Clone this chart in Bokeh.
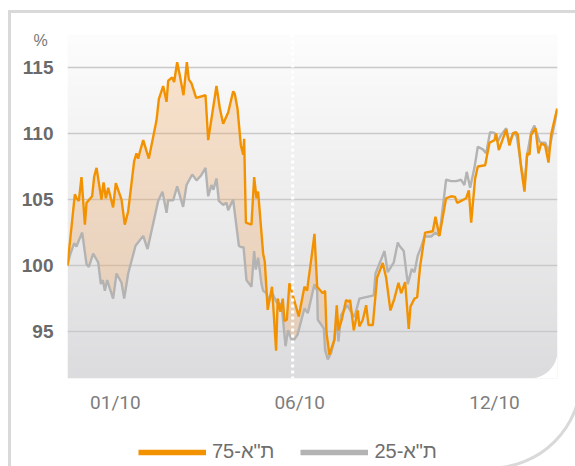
import numpy as np
from bokeh.plotting import figure
from bokeh.layouts import column
from bokeh.models import Range1d, FixedTicker, Span, Legend, LegendItem, Title
from bokeh.embed import file_html
from bokeh.resources import INLINE

# ---------------- data ----------------
# t = position along the period (days from the first observation)
t_ta75 = [0, 6.3, 7.7, 9.7, 12, 14.9, 16.3, 21.1, 22.9, 24.9, 29.1, 30.9, 32.9, 34.9, 39.1, 41.4,
          46.3, 49.1, 52, 57.1, 59.1, 60.6, 62, 64.9, 69.7, 76.3, 78.3, 82, 84.9, 86.3, 89.7, 91.4,
          94, 96.3, 99.4, 102.3, 104, 106.3, 110.3, 118.3, 120.6, 127.7, 130.6, 133.4, 137.7, 142,
          143.4, 145.7, 148.6, 150.6, 151.4, 152.9, 157.7, 160, 162, 163.4, 165.4, 167.7, 169.1,
          171.6, 175.3, 178.8, 180.2, 182.5, 184.5, 186, 188, 190.2, 198.2, 203.1, 205.4, 206.5,
          208.8, 211.7, 214, 218.8, 220.8, 222, 224.5, 228.8, 230.8, 232.2, 235.1, 238.8, 241.1,
          242.2, 245.4, 248.8, 250.2, 253.1, 256, 258, 261.7, 265.4, 270.2, 273.1, 276.8, 280.2,
          283.7, 286, 289.4, 292.5, 294, 297.4, 299.7, 302.2, 306.5, 313.1, 315.4, 318.8, 324.5,
          328.8, 332.2, 334, 337.4, 341.7, 344, 346, 349.4, 351.7, 358, 359.7, 361.7, 366, 367.4,
          369.7, 376, 378.8, 381.7, 384.5, 386, 388.8, 391.7, 394, 396, 397.4, 401.1, 403.7, 406,
          409.4, 412.3, 414.5, 419.7]
ta75 = [100.0, 105.4, 105.1, 104.9, 106.7, 103.1, 104.75, 105.25, 106.75, 107.4, 105.0, 106.3, 105.1,
        105.9, 104.4, 106.25, 105.0, 103.1, 104.1, 107.9, 108.5, 108.1, 108.6, 109.5, 108.1, 111.0,
        112.6, 113.6, 112.4, 114.0, 114.25, 113.9, 115.4, 114.4, 112.9, 115.4, 114.1, 113.8, 112.7,
        112.9, 109.5, 113.6, 111.9, 110.75, 111.6, 113.2, 113.0, 111.9, 109.1, 108.4, 109.6, 103.25,
        103.1, 106.7, 105.1, 105.6, 103.4, 100.9, 100.3, 96.65, 98.4, 93.55, 97.5, 96.5, 97.5, 95.8,
        95.9, 98.65, 96.15, 98.4, 98.1, 98.9, 100.4, 102.4, 98.4, 97.9, 98.1, 94.9, 93.25, 94.4,
        97.0, 95.1, 95.9, 97.4, 97.25, 97.4, 95.1, 96.6, 95.4, 95.9, 97.0, 95.5, 95.5, 99.1, 100.2,
        99.1, 96.6, 97.5, 98.7, 97.9, 98.75, 95.2, 96.9, 97.5, 97.6, 99.9, 102.5, 102.6, 103.7,
        102.25, 105.1, 105.25, 105.2, 104.75, 104.9, 105.1, 105.7, 103.25, 106.6, 107.5, 107.6,
        108.4, 109.3, 109.5, 110.0, 108.75, 110.3, 109.1, 110.0, 110.1, 109.9, 107.4, 105.6, 108.5,
        108.4, 109.9, 110.4, 108.5, 109.25, 109.1, 107.8, 109.9, 111.9]

t_ta25 = [0, 2, 5.7, 7.7, 9.7, 12.6, 16.3, 18.3, 22, 26.3, 28.6, 30.3, 32, 34, 39.1, 42, 46.3, 48.6,
          52, 58.3, 64.9, 68.6, 77.7, 81.4, 84.9, 86.3, 90.6, 94, 99.1, 102, 106.9, 110.6, 114.3,
          118.3, 120.6, 123.4, 125.1, 127.7, 129.7, 133.4, 136.3, 137.7, 142, 146.9, 148.6, 150.9,
          153.4, 157.7, 160, 161.4, 163.4, 166.3, 167.7, 170.6, 172, 175.4, 179.1, 180.6, 183.4,
          186.9, 189.1, 192, 194.3, 197.1, 203.1, 206, 211.7, 214, 214.5, 219.7, 220.8, 223.1, 226,
          228.8, 230.8, 232.2, 234.5, 236.8, 239.7, 243.1, 246, 250.2, 262.5, 264, 271.7, 274.5,
          279.7, 283.1, 284.5, 288.2, 291.7, 295.1, 297.4, 300.2, 303.1, 306, 311.7, 315.4, 318.8,
          324.5, 328.8, 333.1, 337.4, 340.2, 342.2, 345.1, 348.8, 351.7, 356, 358.8, 362.2, 366,
          368.8, 371.7, 376, 378.8, 382.5, 385.1, 388.2, 391.7, 394, 397.4, 400.2, 404.5, 406, 409.7,
          412.3, 416, 419.7]
ta25 = [100.0, 100.75, 101.7, 101.45, 101.9, 102.5, 100.1, 99.9, 100.9, 100.25, 98.6, 98.9, 98.1,
        98.9, 97.5, 99.4, 98.7, 97.5, 99.4, 101.5, 102.25, 101.25, 104.9, 105.6, 104.0, 104.95,
        104.95, 106.0, 104.45, 106.1, 106.9, 106.45, 106.8, 107.4, 105.25, 106.1, 105.75, 106.6,
        104.9, 104.6, 104.75, 104.2, 105.0, 101.5, 101.4, 101.4, 98.9, 98.4, 101.1, 99.7, 100.6,
        98.6, 98.1, 97.9, 97.4, 97.9, 97.25, 97.1, 97.1, 93.9, 95.1, 94.4, 94.4, 94.75, 96.75,
        96.4, 98.6, 98.1, 95.9, 95.25, 93.6, 92.9, 93.4, 94.4, 96.1, 94.25, 96.25, 96.6, 97.0,
        96.5, 96.1, 97.5, 97.75, 99.4, 101.1, 99.5, 100.25, 101.75, 101.5, 101.1, 98.6, 99.75,
        99.5, 100.75, 101.4, 102.2, 102.2, 102.5, 102.25, 106.5, 106.4, 106.4, 106.5, 106.1,
        107.1, 105.9, 107.4, 109.0, 108.8, 108.5, 110.1, 110.05, 109.4, 109.9, 110.4, 109.3,
        110.1, 109.8, 107.9, 106.1, 108.4, 110.1, 110.6, 109.4, 109.3, 109.3, 108.6, 110.1, 111.75]

x_ticks = [41, 199, 366]
x_tick_labels = ["01/10", "06/10", "12/10"]
y_ticks = [95, 100, 105, 110, 115]
divider_t = 193
series_names = ['ת"א-75', 'ת"א-25']
unit_label = "%"

# ---------------- styling ----------------
ORANGE = "#f39200"
GRAY = "#b3b3b3"
X0, X1 = 0, 420
Y0, Y1 = 91.45, 117.5

# outer panel frame (left/top edges and a large rounded bottom-right corner) as page background
frame_svg = ("data:image/svg+xml;utf8,<svg xmlns='http://www.w3.org/2000/svg' width='575' height='466'>"
             "<path d='M9.5 470 L9.5 11.5 L581 11.5 L581 378 A90 90 0 0 1 491 468' "
             "fill='none' stroke='%23d9d9d9' stroke-width='3'/></svg>")

p = figure(width=575, height=416, output_backend="svg", toolbar_location=None,
           x_range=Range1d(X0, X1), y_range=Range1d(Y0, Y1),
           min_border_left=67, min_border_right=18, min_border_top=34, min_border_bottom=35)
p.background_fill_color = "white"
p.border_fill_alpha = 0
p.outline_line_color = None

# "%" unit label as a small left-aligned title
p.title = Title(text=unit_label, align="left", offset=-34, text_font="Liberation Sans",
                text_font_size="16px", text_font_style="normal", text_color="#777777",
                standoff=-29)

# gradient plot background
n = 256
fr = np.linspace(0, 1, n)  # 0 bottom -> 1 top
c_bot = np.array([0xdc, 0xdc, 0xde])
c_top = np.array([0xfd, 0xfd, 0xfd])
cols = (c_bot[None, :] * (1 - fr[:, None]) + c_top[None, :] * fr[:, None]).astype(np.uint32)
img = np.empty((n, 1), dtype=np.uint32)
view = img.view(dtype=np.uint8).reshape((n, 1, 4))
view[:, 0, 0] = cols[:, 0]
view[:, 0, 1] = cols[:, 1]
view[:, 0, 2] = cols[:, 2]
view[:, 0, 3] = 255
p.image_rgba(image=[img], x=X0, y=Y0, dw=X1 - X0, dh=Y1 - Y0, level="image")

# rounded bottom-right corner of the plot area (white mask)
r_px = 28
rx = r_px * (X1 - X0) / 490
ry = r_px * (Y1 - Y0) / 347
ang = np.linspace(0, np.pi / 2, 20)
cx, cy = X1 - rx, Y0 + ry
corner_x = [X1] + list(cx + rx * np.cos(-ang))
corner_y = [Y0] + list(cy + ry * np.sin(-ang))

# grid lines
p.xgrid.visible = False
p.ygrid.ticker = FixedTicker(ticks=y_ticks)
p.ygrid.grid_line_color = "#c9c9c9"
p.ygrid.grid_line_width = 1.6
p.ygrid.level = "image"

# fill between the two series (only where TA-75 is above TA-25)
t_all = np.union1d(t_ta75, t_ta25)
o_i = np.interp(t_all, t_ta75, ta75)
g_i = np.interp(t_all, t_ta25, ta25)
p.varea(x=t_all, y1=g_i, y2=np.maximum(o_i, g_i), fill_color="#f5a04a", fill_alpha=0.26)

p.patch(corner_x, corner_y, fill_color="white", line_color=None)

p.add_layout(Span(location=divider_t, dimension="height", line_color="white",
                  line_width=3, line_dash="3 3"))

p.line(t_ta25, ta25, line_color=GRAY, line_width=2.4)
p.line(t_ta75, ta75, line_color=ORANGE, line_width=2.4)

# axes
p.xaxis.ticker = FixedTicker(ticks=x_ticks)
p.xaxis.major_label_overrides = {t: s for t, s in zip(x_ticks, x_tick_labels)}
p.xaxis.axis_line_color = None
p.xaxis.major_tick_line_color = None
p.xaxis.minor_tick_line_color = None
p.xaxis.major_tick_out = 0
p.xaxis.major_label_standoff = 12
p.xaxis.major_label_text_font = "Roboto"
p.xaxis.major_label_text_font_size = "19px"
p.xaxis.major_label_text_color = "#7d7d7d"

p.yaxis.ticker = FixedTicker(ticks=y_ticks)
p.yaxis.axis_line_color = None
p.yaxis.major_tick_line_color = None
p.yaxis.minor_tick_line_color = None
p.yaxis.major_tick_out = 0
p.yaxis.major_label_standoff = 14
p.yaxis.major_label_text_font = "Liberation Sans"
p.yaxis.major_label_text_font_style = "bold"
p.yaxis.major_label_text_font_size = "19px"
p.yaxis.major_label_text_color = "#6a6a6a"

# legend strip (its own small figure under the chart); the series are drawn there
# outside its visible range only so that the legend gets thick sample lines
leg = figure(width=575, height=50, output_backend="svg", toolbar_location=None,
             x_axis_type=None, y_axis_type=None, x_range=Range1d(0, 1), y_range=Range1d(0, 1),
             min_border_left=0, min_border_right=0, min_border_top=0, min_border_bottom=0)
leg.grid.visible = False
leg.outline_line_color = None
leg.background_fill_alpha = 0
leg.border_fill_alpha = 0
r75 = leg.line(t_ta75, ta75, line_color=ORANGE, line_width=5.5)
r25 = leg.line(t_ta25, ta25, line_color=GRAY, line_width=5.5)
legend = Legend(items=[LegendItem(label=series_names[0], renderers=[r75]),
                       LegendItem(label=series_names[1], renderers=[r25])],
                orientation="horizontal", location=(71, 3),
                glyph_width=68, glyph_height=20, label_height=20, label_standoff=6,
                spacing=26, padding=0, margin=0,
                border_line_color=None, background_fill_alpha=0,
                label_text_font="Liberation Sans", label_text_font_size="20px",
                label_text_color="#6e6e6e")
leg.add_layout(legend)

page = column(p, leg, spacing=0)
page.styles = {"background-image": f'url("{frame_svg}")', "background-repeat": "no-repeat"}

open("out.html", "w").write(file_html(page, INLINE))
